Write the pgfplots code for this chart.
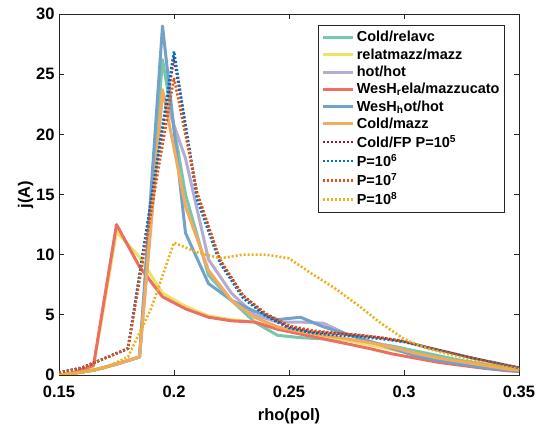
\documentclass[border=0pt]{standalone}
\usepackage{fontspec}
\setmainfont{Liberation Sans}
\usepackage{pgfplots}
\pgfplotsset{compat=1.18}
\definecolor{cgreen}{RGB}{120,198,172}
\definecolor{cyellow}{RGB}{240,224,100}
\definecolor{cpurple}{RGB}{182,172,210}
\definecolor{cred}{RGB}{236,112,98}
\definecolor{cblue}{RGB}{112,162,202}
\definecolor{corange}{RGB}{244,170,92}
\definecolor{ddred}{RGB}{162,20,47}
\definecolor{ddblue}{RGB}{0,114,189}
\definecolor{ddorange}{RGB}{217,83,25}
\definecolor{ddyellow}{RGB}{237,177,32}
\definecolor{axgray}{RGB}{38,38,38}
\begin{document}
\begin{tikzpicture}
\begin{axis}[
  scale only axis,
  width=460pt, height=361pt,
  xmin=0.15, xmax=0.35, ymin=0, ymax=30,
  xtick={0.15,0.2,0.25,0.3,0.35},
  xticklabels={0.15,0.2,0.25,0.3,0.35},
  ytick={0,5,10,15,20,25,30},
  tick align=inside,
  major tick length=5pt,
  axis line style={axgray, line width=0.8pt},
  tick style={axgray, line width=0.8pt},
  every tick label/.append style={font=\fontsize{16.5}{18}\selectfont\bfseries, text=black},
  /pgf/number format/assume math mode=true,
  xticklabel style={yshift=-7pt},
  yticklabel style={xshift=-1pt},
  xlabel={rho(pol)},
  ylabel={j(A)},
  label style={font=\fontsize{16.5}{18}\selectfont\bfseries},
  xlabel style={yshift=-4pt},
  ylabel style={yshift=-4pt},
  legend style={at={(1,1)}, anchor=north east, xshift=-14pt, yshift=-11pt,
    draw=axgray, line width=0.8pt, fill=white,
    font=\fontsize{14.5}{16}\selectfont\bfseries,
    row sep=1.3pt, inner xsep=3pt, inner ysep=4pt},
  legend cell align=left,
  legend image code/.code={\draw[#1] (0pt,0pt) -- (30pt,0pt);},
  every axis plot/.append style={line join=round},
]
\addplot[line width=3pt, cgreen] coordinates {
(0.15,0) (0.155,0.1) (0.165,0.4) (0.175,0.9) (0.185,1.5) (0.195,26.2) (0.205,15.0) (0.215,8.3) (0.225,6.2) (0.235,4.4) (0.245,3.3) (0.255,3.1) (0.265,3.0) (0.275,2.9) (0.285,2.7) (0.295,2.4) (0.305,2.0) (0.315,1.6) (0.325,1.2) (0.335,0.9) (0.345,0.6) (0.35,0.5)};
\addlegendentry{Cold/relavc}
\addplot[line width=3pt, cyellow] coordinates {
(0.15,0) (0.155,0.1) (0.165,0.7) (0.175,11.9) (0.185,9.8) (0.195,6.8) (0.205,5.7) (0.215,4.9) (0.225,4.6) (0.235,4.4) (0.245,3.9) (0.255,3.5) (0.265,3.2) (0.275,2.9) (0.285,2.5) (0.295,2.1) (0.305,1.7) (0.315,1.3) (0.325,1.0) (0.335,0.7) (0.345,0.45) (0.35,0.4)};
\addlegendentry{relatmazz/mazz}
\addplot[line width=3pt, cpurple] coordinates {
(0.15,0) (0.155,0.1) (0.165,0.4) (0.175,0.9) (0.185,1.5) (0.195,23.5) (0.205,18.0) (0.215,9.6) (0.225,6.8) (0.235,5.0) (0.245,4.4) (0.255,4.4) (0.265,4.3) (0.275,3.4) (0.285,2.8) (0.295,2.3) (0.305,1.8) (0.315,1.4) (0.325,1.0) (0.335,0.7) (0.345,0.5) (0.35,0.4)};
\addlegendentry{hot/hot}
\addplot[line width=3pt, cred] coordinates {
(0.15,0) (0.155,0.1) (0.165,0.8) (0.175,12.5) (0.185,9.0) (0.195,6.5) (0.205,5.5) (0.215,4.8) (0.225,4.5) (0.235,4.4) (0.245,3.8) (0.255,3.4) (0.265,3.0) (0.275,2.6) (0.285,2.2) (0.295,1.75) (0.305,1.4) (0.315,1.05) (0.325,0.8) (0.335,0.55) (0.345,0.35) (0.35,0.3)};
\addlegendentry{WesH\textsubscript{r}ela/mazzucato}
\addplot[line width=3pt, cblue] coordinates {
(0.15,0) (0.155,0.1) (0.165,0.4) (0.175,0.9) (0.185,1.5) (0.195,29.0) (0.205,11.8) (0.215,7.6) (0.225,6.2) (0.235,5.3) (0.245,4.6) (0.255,4.8) (0.265,4.0) (0.275,3.4) (0.285,2.8) (0.295,2.2) (0.305,1.6) (0.315,1.2) (0.325,0.9) (0.335,0.6) (0.345,0.4) (0.35,0.3)};
\addlegendentry{WesH\textsubscript{h}ot/hot}
\addplot[line width=3pt, corange] coordinates {
(0.15,0) (0.155,0.1) (0.165,0.4) (0.175,0.9) (0.185,1.5) (0.195,23.7) (0.205,14.0) (0.215,8.7) (0.225,6.2) (0.235,4.8) (0.245,4.0) (0.255,3.6) (0.265,3.3) (0.275,3.0) (0.285,2.7) (0.295,2.3) (0.305,1.8) (0.315,1.4) (0.325,1.1) (0.335,0.8) (0.345,0.5) (0.35,0.4)};
\addlegendentry{Cold/mazz}
\addplot[line width=2.6pt, dash pattern=on 2pt off 2pt, ddred] coordinates {
(0.15,0.2) (0.16,0.6) (0.17,1.4) (0.18,2.2) (0.19,14.3) (0.2,26.4) (0.21,15.0) (0.22,9.5) (0.23,6.6) (0.24,5.0) (0.25,4.0) (0.26,3.6) (0.27,3.45) (0.28,3.3) (0.29,3.1) (0.3,2.8) (0.31,2.3) (0.32,1.85) (0.33,1.4) (0.34,1.0) (0.35,0.6)};
\addlegendentry{Cold/FP P=10\textsuperscript{5}}
\addplot[line width=2.6pt, dash pattern=on 2pt off 2pt, ddblue] coordinates {
(0.15,0.2) (0.16,0.6) (0.17,1.4) (0.18,2.2) (0.19,14.5) (0.2,26.9) (0.21,14.6) (0.22,9.3) (0.23,6.4) (0.24,4.9) (0.25,3.9) (0.26,3.5) (0.27,3.3) (0.28,3.2) (0.29,3.0) (0.3,2.75) (0.31,2.3) (0.32,1.85) (0.33,1.4) (0.34,1.0) (0.35,0.6)};
\addlegendentry{P=10\textsuperscript{6}}
\addplot[line width=2.6pt, dash pattern=on 2pt off 2pt, ddorange] coordinates {
(0.15,0.2) (0.16,0.6) (0.17,1.4) (0.18,2.2) (0.19,13.5) (0.2,24.7) (0.21,15.2) (0.22,9.6) (0.23,6.6) (0.24,5.1) (0.25,4.1) (0.26,3.7) (0.27,3.5) (0.28,3.35) (0.29,3.1) (0.3,2.8) (0.31,2.3) (0.32,1.85) (0.33,1.4) (0.34,1.0) (0.35,0.6)};
\addlegendentry{P=10\textsuperscript{7}}
\addplot[line width=2.6pt, dash pattern=on 2pt off 2pt, ddyellow] coordinates {
(0.15,0.0) (0.16,0.2) (0.17,0.6) (0.18,1.5) (0.19,5.5) (0.2,11.0) (0.21,10.2) (0.22,9.7) (0.23,10.0) (0.24,10.0) (0.25,9.7) (0.26,8.4) (0.27,7.2) (0.28,5.8) (0.29,4.3) (0.3,3.0) (0.31,2.2) (0.32,1.7) (0.33,1.2) (0.34,0.8) (0.35,0.5)};
\addlegendentry{P=10\textsuperscript{8}}
\end{axis}
\pgfresetboundingbox
\path ([shift={(-59pt,-57pt)}]current axis.south west) rectangle ([shift={(20pt,14pt)}]current axis.north east);
\end{tikzpicture}
\end{document}
